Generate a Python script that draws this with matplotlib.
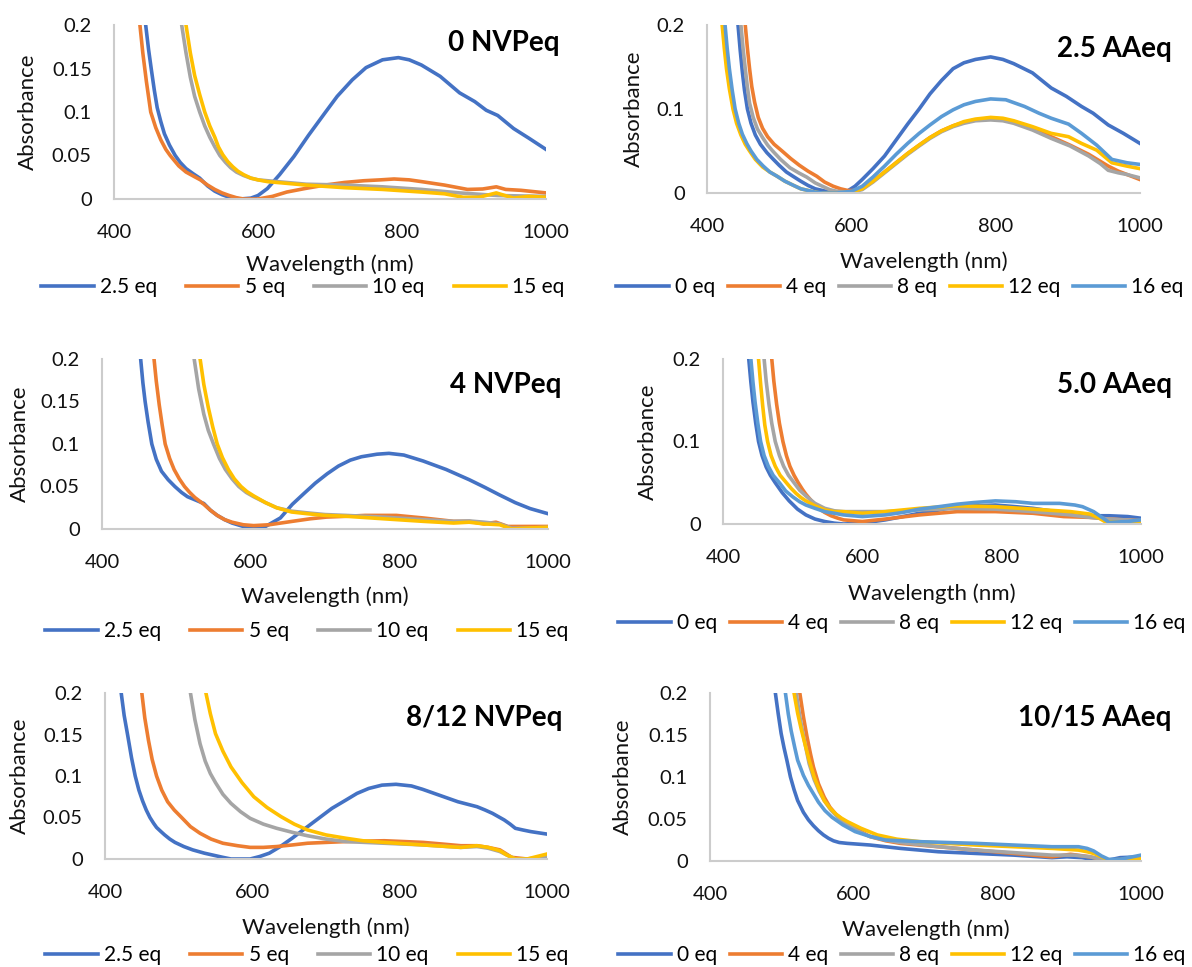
import matplotlib
matplotlib.use("Agg")
import matplotlib.pyplot as plt

W, H = 1192, 967
plt.rcParams['font.family'] = ['Lato', 'DejaVu Sans']

blue = '#4472C4'
orange = '#ED7D31'
gray = '#A5A5A5'
yellow = '#FFC000'
ltblue = '#5B9BD5'
txt = '#111111'

nvp_labels = ['2.5 eq', '5 eq', '10 eq', '15 eq']
aa_labels = ['0 eq', '4 eq', '8 eq', '12 eq', '16 eq']

# ---- 0 NVPeq ----
n0_wl_25 = [436, 440, 444, 448, 452, 456, 460, 465, 470, 477, 485, 492, 500, 510, 519, 530, 540, 550, 560, 575, 590, 600, 613, 630, 650, 670, 693, 710, 731, 750, 773, 795, 810, 827, 853, 880, 901, 917, 933, 955, 976, 1000]
n0_a_25 = [0.25, 0.224, 0.2, 0.172, 0.148, 0.125, 0.105, 0.089, 0.075, 0.062, 0.05, 0.042, 0.035, 0.029, 0.024, 0.015, 0.009, 0.005, 0.002, 0.0, 0.001, 0.004, 0.012, 0.028, 0.049, 0.073, 0.099, 0.118, 0.137, 0.151, 0.160, 0.1625, 0.160, 0.154, 0.141, 0.122, 0.112, 0.102, 0.096, 0.081, 0.070, 0.057]
n0_wl_5 = [430, 433, 436, 440, 445, 451, 458, 465, 472, 478, 490, 500, 511, 520, 530, 540, 550, 560, 570, 580, 600, 620, 640, 665, 693, 720, 747, 770, 789, 810, 827, 859, 891, 912, 931, 944, 965, 1000]
n0_a_5 = [0.25, 0.225, 0.2, 0.168, 0.135, 0.1, 0.082, 0.068, 0.057, 0.05, 0.038, 0.031, 0.026, 0.022, 0.016, 0.011, 0.007, 0.004, 0.0015, 0.0, 0.0, 0.003, 0.008, 0.012, 0.016, 0.019, 0.021, 0.022, 0.023, 0.022, 0.020, 0.016, 0.011, 0.0115, 0.014, 0.011, 0.010, 0.007]
n0_wl_10 = [488, 494, 500, 506, 512, 519, 526, 533, 540, 547, 555, 562, 570, 580, 590, 600, 613, 640, 667, 720, 773, 827, 880, 933, 1000]
n0_a_10 = [0.24, 0.2, 0.168, 0.14, 0.118, 0.1, 0.084, 0.071, 0.06, 0.05, 0.042, 0.036, 0.031, 0.027, 0.024, 0.022, 0.021, 0.019, 0.017, 0.016, 0.014, 0.011, 0.007, 0.004, 0.003]
n0_wl_15 = [494, 500, 506, 512, 519, 526, 533, 540, 545, 551, 558, 565, 572, 580, 590, 600, 613, 640, 667, 720, 773, 827, 859, 885, 907, 931, 955, 976, 1000]
n0_a_15 = [0.24, 0.2, 0.168, 0.142, 0.12, 0.1, 0.084, 0.071, 0.06, 0.051, 0.043, 0.037, 0.032, 0.028, 0.024, 0.022, 0.020, 0.018, 0.016, 0.013, 0.011, 0.008, 0.006, 0.002, 0.002, 0.007, 0.001, 0.003, 0.002]

# ---- 2.5 AAeq ----
a25_wl_0 = [437, 443, 446, 449, 452, 456, 461, 467, 474, 483, 492, 500, 510, 519, 530, 540, 550, 560, 570, 580, 594, 605, 615, 630, 646, 662, 678, 694, 709, 725, 741, 756, 772, 793, 810, 825, 851, 877, 898, 919, 935, 956, 977, 1000]
a25_a_0 = [0.25, 0.2, 0.17, 0.144, 0.122, 0.1, 0.083, 0.069, 0.058, 0.048, 0.04, 0.033, 0.025, 0.02, 0.014, 0.009, 0.005, 0.003, 0.001, 0.0, 0.002, 0.008, 0.016, 0.029, 0.044, 0.063, 0.082, 0.100, 0.118, 0.134, 0.148, 0.155, 0.159, 0.162, 0.159, 0.154, 0.143, 0.125, 0.115, 0.103, 0.095, 0.081, 0.071, 0.059]
a25_wl_4 = [447, 453, 456, 459, 462, 466, 471, 477, 484, 493, 504, 516, 528, 540, 552, 563, 575, 585, 595, 605, 615, 630, 646, 662, 678, 694, 709, 725, 741, 756, 772, 793, 810, 825, 851, 877, 903, 929, 956, 970, 982, 1000]
a25_a_4 = [0.25, 0.2, 0.172, 0.148, 0.127, 0.108, 0.09, 0.077, 0.067, 0.058, 0.05, 0.041, 0.033, 0.026, 0.02, 0.013, 0.008, 0.005, 0.003, 0.003, 0.005, 0.014, 0.025, 0.036, 0.047, 0.057, 0.066, 0.074, 0.080, 0.084, 0.087, 0.089, 0.088, 0.085, 0.077, 0.067, 0.057, 0.046, 0.032, 0.026, 0.022, 0.016]
a25_wl_8 = [441, 447, 450, 453, 456, 459, 464, 470, 477, 484, 491, 502, 515, 527, 538, 550, 560, 570, 580, 595, 605, 615, 630, 646, 662, 678, 694, 709, 725, 741, 756, 772, 793, 810, 825, 851, 877, 903, 929, 945, 956, 970, 982, 1000]
a25_a_8 = [0.25, 0.2, 0.172, 0.148, 0.126, 0.107, 0.09, 0.076, 0.066, 0.057, 0.05, 0.04, 0.03, 0.024, 0.019, 0.012, 0.008, 0.004, 0.002, 0.001, 0.002, 0.004, 0.013, 0.024, 0.035, 0.046, 0.056, 0.065, 0.073, 0.079, 0.083, 0.086, 0.087, 0.086, 0.083, 0.075, 0.065, 0.056, 0.044, 0.035, 0.027, 0.024, 0.022, 0.018]
a25_wl_12 = [416, 421, 424, 427, 431, 436, 441, 447, 453, 459, 467, 477, 487, 497, 508, 520, 530, 540, 550, 557, 580, 600, 615, 630, 646, 662, 678, 694, 709, 725, 741, 756, 772, 793, 810, 825, 851, 877, 901, 919, 940, 961, 982, 1000]
a25_a_12 = [0.25, 0.2, 0.172, 0.148, 0.124, 0.1, 0.083, 0.069, 0.058, 0.05, 0.04, 0.031, 0.025, 0.02, 0.014, 0.009, 0.005, 0.003, 0.001, 0.0, 0.0, 0.001, 0.005, 0.014, 0.025, 0.036, 0.047, 0.057, 0.066, 0.074, 0.080, 0.085, 0.088, 0.090, 0.089, 0.086, 0.079, 0.071, 0.067, 0.059, 0.051, 0.036, 0.032, 0.029]
a25_wl_16 = [420, 425, 428, 431, 435, 439, 444, 449, 455, 461, 469, 478, 487, 497, 508, 520, 530, 540, 550, 560, 580, 600, 615, 630, 646, 662, 678, 694, 709, 725, 741, 756, 772, 793, 814, 840, 860, 877, 901, 919, 940, 961, 982, 1000]
a25_a_16 = [0.25, 0.2, 0.172, 0.148, 0.122, 0.1, 0.083, 0.07, 0.059, 0.05, 0.04, 0.032, 0.025, 0.02, 0.014, 0.009, 0.005, 0.003, 0.001, 0.0, 0.0, 0.002, 0.008, 0.019, 0.032, 0.046, 0.059, 0.071, 0.081, 0.091, 0.099, 0.105, 0.109, 0.112, 0.111, 0.103, 0.095, 0.089, 0.082, 0.071, 0.057, 0.040, 0.036, 0.034]

# ---- 4 NVPeq ----
n4_wl_25 = [446, 452, 455, 458, 462, 467, 473, 480, 489, 498, 507, 515, 526, 537, 546, 555, 565, 575, 590, 604, 620, 640, 656, 672, 687, 703, 718, 734, 749, 770, 786, 806, 832, 863, 894, 915, 935, 956, 976, 1000]
n4_a_25 = [0.25, 0.2, 0.172, 0.15, 0.126, 0.1, 0.082, 0.068, 0.058, 0.05, 0.043, 0.038, 0.034, 0.03, 0.022, 0.016, 0.011, 0.007, 0.003, 0.001, 0.003, 0.013, 0.029, 0.042, 0.054, 0.065, 0.074, 0.081, 0.085, 0.088, 0.089, 0.087, 0.080, 0.070, 0.058, 0.049, 0.040, 0.031, 0.024, 0.018]
n4_wl_5 = [464, 470, 473, 477, 481, 485, 491, 497, 504, 511, 518, 525, 531, 537, 546, 555, 565, 575, 590, 604, 625, 656, 680, 702, 730, 754, 796, 832, 873, 894, 914, 930, 946, 966, 1000]
n4_a_5 = [0.25, 0.2, 0.174, 0.146, 0.122, 0.1, 0.083, 0.07, 0.059, 0.05, 0.043, 0.037, 0.033, 0.029, 0.022, 0.016, 0.011, 0.008, 0.005, 0.004, 0.005, 0.009, 0.012, 0.014, 0.015, 0.016, 0.016, 0.013, 0.009, 0.009, 0.006, 0.008, 0.003, 0.003, 0.003]
n4_wl_10 = [518, 524, 530, 537, 543, 550, 558, 566, 575, 584, 594, 604, 620, 635, 655, 676, 700, 728, 779, 832, 873, 894, 914, 935, 951, 970, 1000]
n4_a_10 = [0.25, 0.2, 0.165, 0.135, 0.116, 0.1, 0.083, 0.07, 0.059, 0.05, 0.043, 0.038, 0.031, 0.025, 0.021, 0.019, 0.017, 0.016, 0.014, 0.011, 0.009, 0.0095, 0.008, 0.006, 0.001, 0.001, 0.002]
n4_wl_15 = [526, 532, 537, 543, 549, 555, 562, 570, 578, 587, 595, 604, 620, 635, 655, 676, 700, 728, 779, 832, 873, 894, 914, 935, 951, 970, 1000]
n4_a_15 = [0.25, 0.2, 0.17, 0.143, 0.12, 0.1, 0.084, 0.07, 0.059, 0.05, 0.044, 0.039, 0.031, 0.025, 0.02, 0.018, 0.016, 0.015, 0.012, 0.009, 0.007, 0.008, 0.006, 0.005, 0.0, 0.001, 0.002]

# ---- 5.0 AAeq ----
a5_wl_0 = [432, 437, 440, 443, 447, 451, 456, 462, 468, 475, 485, 495, 507, 519, 532, 546, 560, 573, 600, 633, 658, 682, 710, 736, 760, 791, 820, 845, 870, 899, 927, 954, 981, 1000]
a5_a_0 = [0.25, 0.2, 0.172, 0.148, 0.122, 0.1, 0.083, 0.069, 0.059, 0.05, 0.038, 0.028, 0.018, 0.011, 0.006, 0.003, 0.001, 0.0, 0.001, 0.005, 0.009, 0.013, 0.017, 0.021, 0.022, 0.023, 0.021, 0.019, 0.016, 0.013, 0.010, 0.010, 0.009, 0.007]
a5_wl_4 = [465, 470, 473, 477, 481, 486, 491, 496, 502, 508, 514, 519, 526, 532, 539, 546, 555, 565, 573, 600, 633, 682, 736, 791, 845, 889, 927, 954, 1000]
a5_a_4 = [0.25, 0.2, 0.173, 0.145, 0.122, 0.1, 0.083, 0.07, 0.059, 0.05, 0.042, 0.036, 0.029, 0.023, 0.018, 0.014, 0.010, 0.007, 0.005, 0.003, 0.006, 0.011, 0.015, 0.015, 0.013, 0.009, 0.008, 0.006, 0.004]
a5_wl_8 = [454, 459, 462, 466, 470, 475, 481, 487, 494, 502, 510, 519, 532, 546, 560, 573, 600, 633, 682, 736, 791, 845, 899, 927, 954, 1000]
a5_a_8 = [0.25, 0.2, 0.173, 0.145, 0.122, 0.1, 0.083, 0.07, 0.059, 0.05, 0.041, 0.034, 0.025, 0.019, 0.016, 0.015, 0.015, 0.015, 0.017, 0.019, 0.018, 0.015, 0.011, 0.008, 0.006, 0.004]
a5_wl_12 = [446, 451, 454, 457, 460, 464, 469, 475, 482, 491, 498, 505, 512, 519, 532, 546, 560, 573, 600, 633, 682, 736, 791, 845, 899, 927, 940, 948, 981, 1000]
a5_a_12 = [0.25, 0.2, 0.17, 0.143, 0.12, 0.1, 0.083, 0.07, 0.059, 0.05, 0.043, 0.037, 0.032, 0.028, 0.022, 0.017, 0.015, 0.015, 0.013, 0.015, 0.019, 0.022, 0.021, 0.018, 0.015, 0.012, 0.007, 0.003, 0.002, 0.003]
a5_wl_16 = [435, 440, 443, 446, 450, 454, 459, 465, 472, 481, 490, 500, 510, 519, 532, 546, 560, 573, 600, 633, 658, 682, 710, 736, 760, 791, 820, 845, 883, 905, 916, 932, 944, 954, 981, 1000]
a5_a_16 = [0.25, 0.2, 0.172, 0.148, 0.122, 0.1, 0.083, 0.07, 0.059, 0.05, 0.04, 0.033, 0.027, 0.023, 0.019, 0.015, 0.013, 0.011, 0.009, 0.011, 0.014, 0.018, 0.021, 0.024, 0.026, 0.028, 0.027, 0.025, 0.025, 0.023, 0.021, 0.015, 0.008, 0.002, 0.003, 0.005]

# ---- 8/12 NVPeq ----
n8_wl_25 = [417, 422, 426, 431, 436, 441, 446, 451, 456, 461, 466, 470, 476, 481, 488, 495, 507, 519, 535, 550, 560, 571, 597, 610, 623, 638, 654, 672, 690, 708, 727, 742, 758, 776, 795, 816, 831, 847, 863, 879, 892, 905, 916, 926, 934, 942, 950, 957, 967, 978, 1000]
n8_a_25 = [0.25, 0.2, 0.173, 0.148, 0.122, 0.1, 0.083, 0.07, 0.059, 0.05, 0.043, 0.038, 0.033, 0.029, 0.024, 0.02, 0.015, 0.011, 0.007, 0.004, 0.002, 0.0, 0.0, 0.003, 0.007, 0.015, 0.025, 0.037, 0.049, 0.061, 0.071, 0.079, 0.085, 0.089, 0.090, 0.088, 0.084, 0.079, 0.074, 0.069, 0.066, 0.063, 0.059, 0.055, 0.051, 0.047, 0.042, 0.037, 0.035, 0.033, 0.030]
n8_wl_5 = [445, 450, 454, 459, 464, 470, 477, 485, 494, 504, 516, 529, 544, 560, 580, 597, 615, 633, 655, 675, 700, 727, 779, 806, 832, 858, 883, 905, 920, 936, 945, 952, 973, 1000]
n8_a_5 = [0.25, 0.2, 0.17, 0.143, 0.12, 0.1, 0.083, 0.069, 0.059, 0.05, 0.039, 0.031, 0.024, 0.019, 0.016, 0.014, 0.014, 0.015, 0.017, 0.019, 0.020, 0.021, 0.022, 0.021, 0.020, 0.018, 0.016, 0.016, 0.014, 0.011, 0.006, 0.002, 0.0, 0.001]
n8_wl_10 = [510, 516, 522, 529, 536, 543, 550, 560, 571, 584, 597, 615, 633, 655, 675, 700, 727, 779, 831, 883, 905, 920, 936, 945, 957, 973, 1000]
n8_a_10 = [0.25, 0.2, 0.168, 0.139, 0.118, 0.103, 0.092, 0.078, 0.067, 0.057, 0.049, 0.042, 0.037, 0.032, 0.028, 0.024, 0.021, 0.019, 0.017, 0.014, 0.015, 0.013, 0.009, 0.005, 0.0, 0.0, 0.003]
n8_wl_15 = [531, 537, 543, 550, 560, 571, 586, 602, 620, 639, 657, 675, 700, 727, 750, 779, 831, 883, 905, 920, 936, 945, 957, 973, 1000]
n8_a_15 = [0.25, 0.2, 0.175, 0.151, 0.13, 0.111, 0.092, 0.075, 0.062, 0.051, 0.042, 0.035, 0.029, 0.025, 0.022, 0.020, 0.017, 0.014, 0.016, 0.014, 0.010, 0.005, 0.0, 0.0, 0.006]

# ---- 10/15 AAeq ----
a10_wl_0 = [486, 491, 495, 499, 503, 507, 512, 517, 522, 530, 537, 544, 551, 558, 565, 572, 580, 591, 623, 665, 718, 770, 823, 876, 897, 918, 939, 955, 971, 1000]
a10_a_0 = [0.25, 0.2, 0.175, 0.152, 0.135, 0.12, 0.1, 0.085, 0.072, 0.058, 0.049, 0.042, 0.036, 0.031, 0.027, 0.024, 0.022, 0.021, 0.019, 0.015, 0.011, 0.009, 0.007, 0.004, 0.005, 0.004, 0.001, 0.001, 0.004, 0.005]
a10_wl_4 = [520, 525, 530, 535, 540, 544, 551, 559, 567, 576, 586, 600, 623, 645, 665, 718, 770, 823, 876, 902, 929, 950, 1000]
a10_a_4 = [0.25, 0.2, 0.172, 0.148, 0.127, 0.112, 0.092, 0.076, 0.064, 0.055, 0.048, 0.04, 0.029, 0.024, 0.021, 0.017, 0.013, 0.009, 0.005, 0.008, 0.005, 0.001, 0.001]
a10_wl_8 = [515, 520, 525, 531, 538, 545, 552, 559, 568, 578, 591, 605, 623, 645, 665, 718, 770, 823, 876, 907, 929, 945, 955, 1000]
a10_a_8 = [0.25, 0.2, 0.172, 0.145, 0.116, 0.097, 0.083, 0.072, 0.061, 0.052, 0.043, 0.036, 0.029, 0.025, 0.022, 0.017, 0.013, 0.010, 0.007, 0.007, 0.005, 0.002, 0.0, 0.004]
a10_wl_12 = [512, 517, 522, 527, 532, 538, 545, 552, 559, 567, 575, 583, 591, 610, 633, 660, 692, 770, 823, 876, 913, 925, 934, 945, 955, 1000]
a10_a_12 = [0.25, 0.2, 0.176, 0.157, 0.14, 0.12, 0.1, 0.085, 0.072, 0.063, 0.056, 0.051, 0.047, 0.039, 0.031, 0.026, 0.023, 0.019, 0.017, 0.015, 0.013, 0.011, 0.009, 0.005, 0.001, 0.003]
a10_wl_16 = [500, 505, 509, 513, 518, 522, 530, 537, 544, 551, 560, 570, 585, 602, 620, 644, 692, 770, 823, 876, 913, 925, 934, 945, 955, 971, 1000]
a10_a_16 = [0.25, 0.2, 0.175, 0.155, 0.135, 0.12, 0.102, 0.09, 0.08, 0.07, 0.06, 0.052, 0.043, 0.035, 0.030, 0.025, 0.023, 0.021, 0.019, 0.017, 0.017, 0.015, 0.012, 0.006, 0.002, 0.002, 0.007]


fig = plt.figure(figsize=(W / 100, H / 100), dpi=100)


def fx(x):
    return x / W


def fy(y):
    return 1 - y / H


def panel(box, series, labels, colors, title, title_xy, yticks, ylab_x, xlab_y, leg_xy, colsp):
    x0, y0, x1, y1 = box
    ax = fig.add_axes([fx(x0), fy(y1), (x1 - x0) / W, (y1 - y0) / H])
    for (wl, a), lab, c in zip(series, labels, colors):
        ax.plot(wl, a, color=c, lw=2.6, label=lab, solid_joinstyle='round')
    ax.set_xlim(400, 1000)
    ax.set_ylim(0, 0.2)
    ax.set_xticks([400, 600, 800, 1000])
    ax.set_yticks(yticks)
    ax.set_yticklabels(['%g' % v for v in yticks])
    for s in ['top', 'right']:
        ax.spines[s].set_visible(False)
    for s in ['left', 'bottom']:
        ax.spines[s].set_color('#cccccc')
        ax.spines[s].set_linewidth(1.5)
    ax.tick_params(length=0, labelsize=14.5, colors=txt)
    ax.tick_params(axis='x', pad=18)
    ax.tick_params(axis='y', pad=16)
    ax.set_facecolor('none')
    fig.text(fx(title_xy[0]), fy(title_xy[1]), title, ha='right', va='baseline',
             fontsize=20, fontweight='bold', color='black')
    fig.text(fx((x0 + x1) / 2), fy(xlab_y), 'Wavelength (nm)', ha='center', va='center',
             fontsize=16, color=txt)
    fig.text(fx(ylab_x), fy((y0 + y1) / 2), 'Absorbance', ha='center', va='center',
             rotation=90, fontsize=16, color=txt)
    ax.legend(loc='center', bbox_to_anchor=(fx(leg_xy[0]), fy(leg_xy[1])),
              bbox_transform=fig.transFigure, ncol=len(labels), frameon=False,
              fontsize=15, handlelength=2.5, handletextpad=0.3, columnspacing=colsp,
              borderpad=0, borderaxespad=0)
    return ax


nvp_colors = [blue, orange, gray, yellow]
aa_colors = [blue, orange, gray, yellow, ltblue]
fine = [0, 0.05, 0.1, 0.15, 0.2]
coarse = [0, 0.1, 0.2]

panel((114, 25, 546, 199),
      [(n0_wl_25, n0_a_25), (n0_wl_5, n0_a_5), (n0_wl_10, n0_a_10), (n0_wl_15, n0_a_15)],
      nvp_labels, nvp_colors, '0 NVPeq', (560, 51), fine, 28, 265, (303, 287), 1.4)

panel((707, 25, 1140, 193),
      [(a25_wl_0, a25_a_0), (a25_wl_4, a25_a_4), (a25_wl_8, a25_a_8), (a25_wl_12, a25_a_12), (a25_wl_16, a25_a_16)],
      aa_labels, aa_colors, '2.5 AAeq', (1172, 57), coarse, 634, 262, (900, 287), 0.6)

panel((102, 359, 548, 529),
      [(n4_wl_25, n4_a_25), (n4_wl_5, n4_a_5), (n4_wl_10, n4_a_10), (n4_wl_15, n4_a_15)],
      nvp_labels, nvp_colors, '4 NVPeq', (562, 393), fine, 20, 597, (307, 631), 1.4)

panel((723, 359, 1141, 524),
      [(a5_wl_0, a5_a_0), (a5_wl_4, a5_a_4), (a5_wl_8, a5_a_8), (a5_wl_12, a5_a_12), (a5_wl_16, a5_a_16)],
      aa_labels, aa_colors, '5.0 AAeq', (1172, 393), coarse, 648, 594, (902, 623), 0.6)

panel((105, 693, 547, 859),
      [(n8_wl_25, n8_a_25), (n8_wl_5, n8_a_5), (n8_wl_10, n8_a_10), (n8_wl_15, n8_a_15)],
      nvp_labels, nvp_colors, '8/12 NVPeq', (562, 726), fine, 20, 928, (307, 955), 1.4)

panel((710, 693, 1141, 861),
      [(a10_wl_0, a10_a_0), (a10_wl_4, a10_a_4), (a10_wl_8, a10_a_8), (a10_wl_12, a10_a_12), (a10_wl_16, a10_a_16)],
      aa_labels, aa_colors, '10/15 AAeq', (1172, 726), fine, 623, 930, (902, 955), 0.6)

fig.savefig('out.png', dpi=100)
